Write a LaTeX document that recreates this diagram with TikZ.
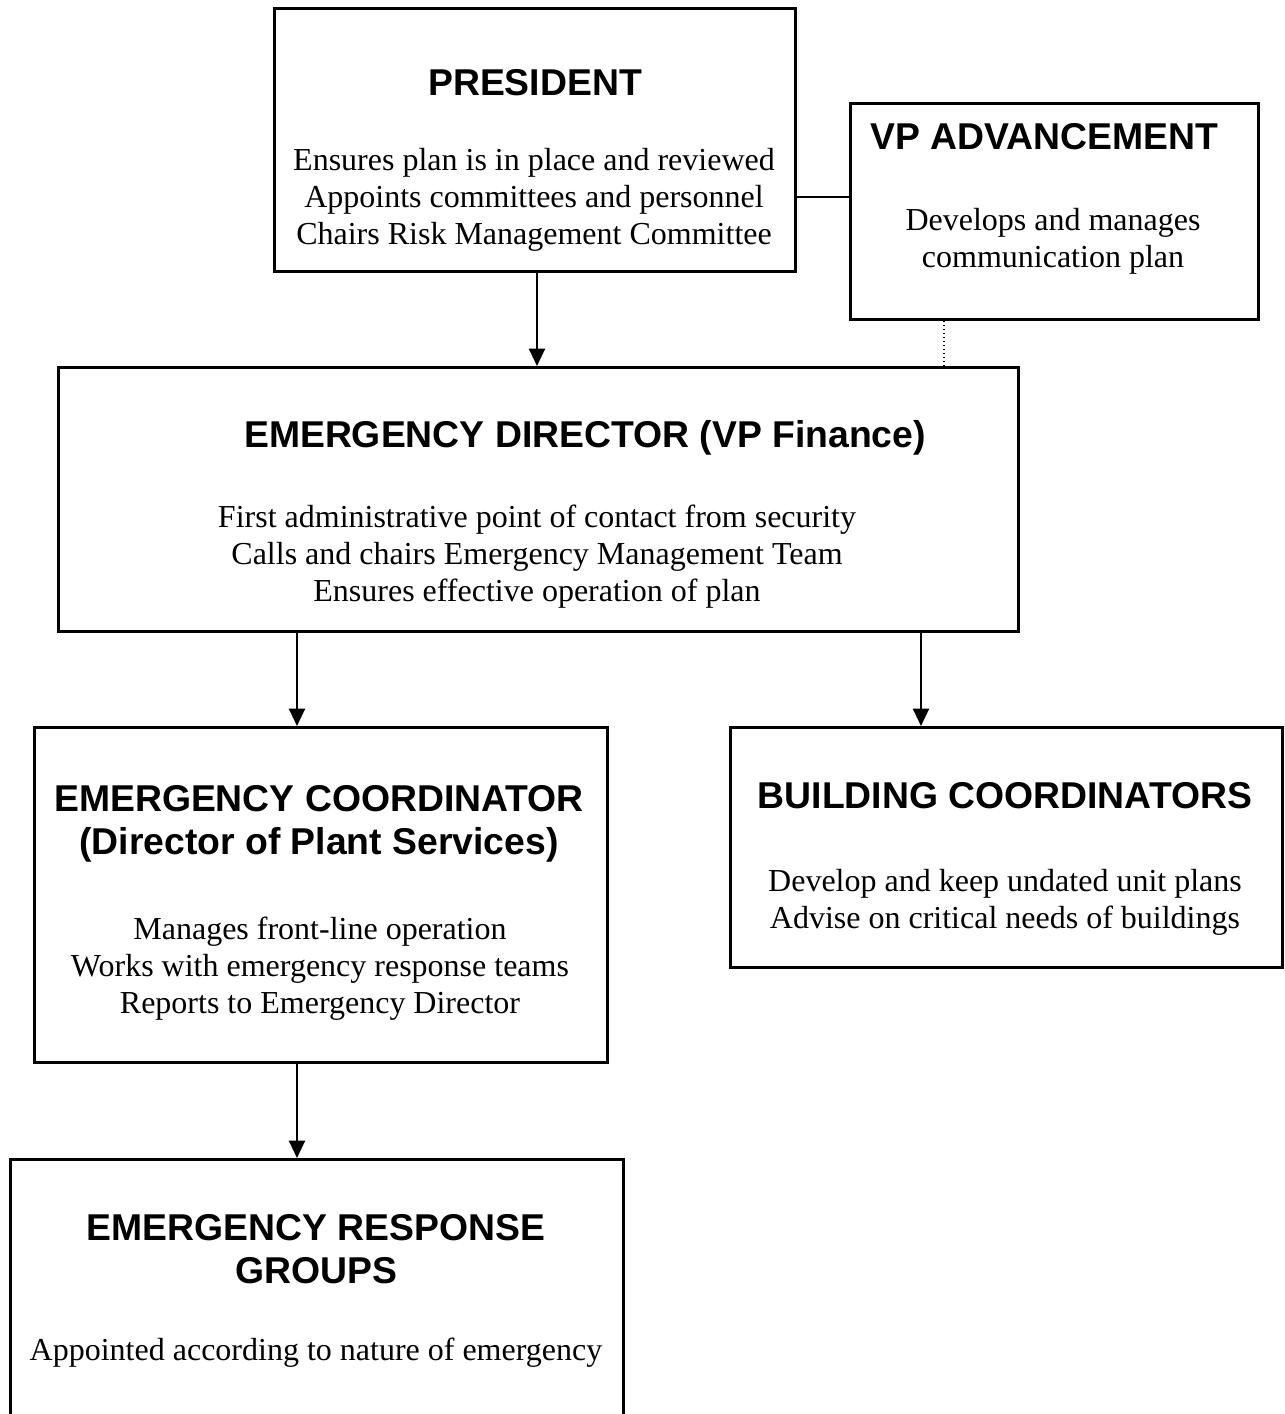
\documentclass[tikz,border=0pt]{standalone}
\usepackage{fontspec}
\setmainfont{Liberation Serif}
\setsansfont{Liberation Sans}
\usetikzlibrary{arrows.meta}
\tikzset{
  box/.style= {draw, line width=1.1pt, inner sep=0, anchor=north west},
  title/.style= {font=\sffamily\bfseries\fontsize{14}{16}\selectfont, align=center, inner sep=0},
  duty/.style= {font=\fontsize{12}{13.9}\selectfont, align=center, inner sep=0},
  arr/.style= {line width=0.8pt, -{Triangle[width=6pt,length=6.5pt]}},
  link/.style= {line width=0.8pt},
  dotlink/.style= {line width=0.5pt, densely dotted},
}

\begin{document}
\begin{tikzpicture}[x=0.375pt, y=-0.375pt]
  \useasboundingbox (0,0) rectangle (1285,1414);
  \clip (0,0) rectangle (1285,1414);

  % boxes
  \node [box, minimum width=195.4pt, minimum height=98.6pt] (pres) at (273,7) {};
  \node [box, minimum width=153pt, minimum height=81pt] (vpa) at (849,102) {};
  \node [box, minimum width=360pt, minimum height=99pt] (ed) at (57,366) {};
  \node [box, minimum width=214.9pt, minimum height=125.6pt] (ec) at (33,726) {};
  \node [box, minimum width=207pt, minimum height=90pt] (bc) at (729,726) {};
  \node [box, minimum width=229.9pt, minimum height=113pt] (erg) at (9,1158) {};

  % texts
  \node [title] (pres-t) at (535,83) {PRESIDENT};
  \node [duty] (pres-d) at (534,200) {Ensures plan is in place and reviewed\\
    Appoints committees and personnel\\ Chairs Risk Management Committee};
  \node [title] (vpa-t) at (1044,137) {VP ADVANCEMENT};
  \node [duty] (vpa-d) at (1053,241) {Develops and manages\\ communication plan};
  \node [title] (ed-t) at (585,438) {EMERGENCY DIRECTOR (VP Finance)};
  \node [duty] (ed-d) at (537,557) {First administrative point of contact from security\\
    Calls and chairs Emergency Management Team\\ Ensures effective operation of plan};
  \node [title] (ec-t) at (319,824) {EMERGENCY COORDINATOR\\ (Director of Plant Services)};
  \node [duty] (ec-d) at (320,969) {Manages front-line operation\\
    Works with emergency response teams\\ Reports to Emergency Director};
  \node [title] (bc-t) at (1005,796) {BUILDING COORDINATORS};
  \node [duty] (bc-d) at (1005,902) {Develop and keep undated unit plans\\
    Advise on critical needs of buildings};
  \node [title] (erg-t) at (316,1249) {EMERGENCY RESPONSE\\ GROUPS};
  \node [duty] (erg-d) at (316,1353) {Appointed according to nature of emergency};

  % columns of the connectors
  \coordinate (colM) at (537,0);
  \coordinate (colD) at (944,0);
  \coordinate (colL) at (297,0);
  \coordinate (colR) at (921,0);
  \coordinate (rowV) at (0,197);

  \draw [link] (pres.east |- rowV) -- (vpa.west |- rowV);
  \draw [dotlink] (vpa.south -| colD) -- (ed.north -| colD);
  \draw [arr] (pres.south -| colM) -- (ed.north -| colM);
  \draw [arr] (ed.south -| colL) -- (ec.north -| colL);
  \draw [arr] (ed.south -| colR) -- (bc.north -| colR);
  \draw [arr] (ec.south -| colL) -- (erg.north -| colL);
\end{tikzpicture}
\end{document}
